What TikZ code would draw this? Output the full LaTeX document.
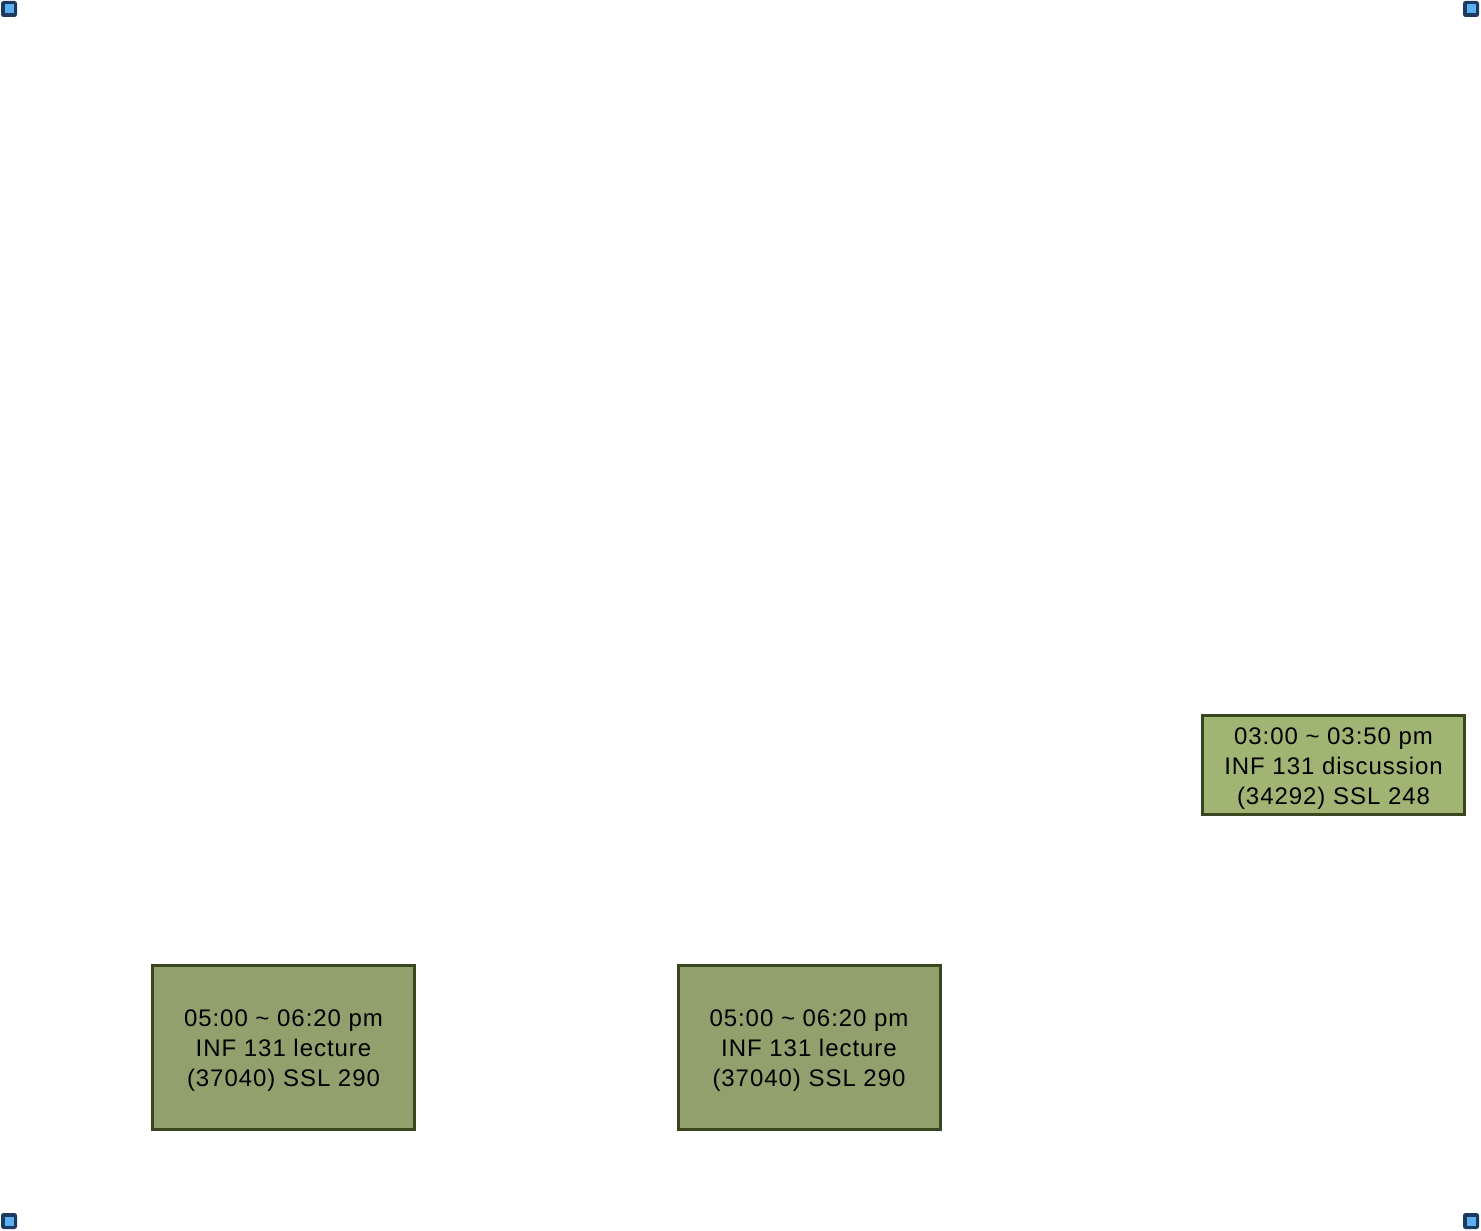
\documentclass[tikz,border=0pt]{standalone}
\usepackage{fontspec}
\setmainfont{Liberation Sans}[LetterSpace=4]
\definecolor{mkdark}{HTML}{1B3A5E}
\definecolor{mklight}{HTML}{5CB0F2}
\definecolor{discfill}{HTML}{A0B474}
\definecolor{lecfill}{HTML}{91A06C}
\definecolor{boxline}{HTML}{3A4620}
\tikzset{
  marker/.style={fill=mkdark, rounded corners=2.5pt, minimum size=16pt, inner sep=0pt, draw=none},
  markin/.style={fill=mklight, minimum size=9pt, inner sep=0pt, draw=none},
  slot/.style={draw=boxline, line width=3pt, inner sep=0pt, minimum width=262pt},
  slottext/.style={align=center, inner sep=0pt, font=\fontsize{24}{30}\selectfont, text=black},
}
\begin{document}
\begin{tikzpicture}[x=1pt,y=-1pt]
\useasboundingbox (0,0) rectangle (1481,1231);
\fill[white] (0,0) rectangle (1481,1231);
\foreach \p/\q [count=\i] in {9/9,1471/9,9/1221,1471/1221}{
  \node[marker] (m\i) at (\p,\q) {};
  \node[markin] (mi\i) at (\p,\q) {};
}
\node[slot, fill=discfill, minimum height=99pt] (disc) at (1333.5,765) {};
\node[slottext] (disct) at ([yshift=-4pt]disc.center) {03:00 \textasciitilde{} 03:50 pm\\INF 131 discussion\\(34292) SSL 248};
\node[slot, fill=lecfill, minimum height=164pt] (lec1) at (283.5,1047.5) {};
\node[slottext] (lec1t) at ([yshift=-3.5pt]lec1.center) {05:00 \textasciitilde{} 06:20 pm\\INF 131 lecture\\(37040) SSL 290};
\node[slot, fill=lecfill, minimum height=164pt] (lec2) at (809,1047.5) {};
\node[slottext] (lec2t) at ([yshift=-3.5pt]lec2.center) {05:00 \textasciitilde{} 06:20 pm\\INF 131 lecture\\(37040) SSL 290};
\end{tikzpicture}
\end{document}
